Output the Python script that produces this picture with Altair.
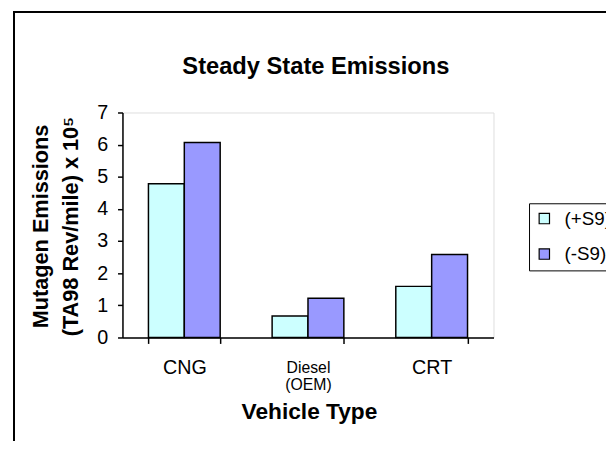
import altair as alt
import pandas as pd

vehicles = ["CNG", "Diesel (OEM)", "CRT"]
series = ["(+S9)", "(-S9)"]
plus_s9 = [4.78, 0.67, 1.59]
minus_s9 = [6.07, 1.22, 2.58]
colors = ["#CCFFFF", "#9999FF"]
y_ticks = [0, 1, 2, 3, 4, 5, 6, 7]

rows = []
for i, v in enumerate(vehicles):
    rows.append({"vehicle": v, "series": series[0], "value": plus_s9[i]})
    rows.append({"vehicle": v, "series": series[1], "value": minus_s9[i]})
df = pd.DataFrame(rows)

FONT = "Liberation Sans"

bars = alt.Chart(df).mark_bar(stroke="black", strokeWidth=1.5).encode(
    x=alt.X(
        "vehicle:N",
        sort=vehicles,
        scale=alt.Scale(paddingInner=0.42, paddingOuter=0.21),
        axis=alt.Axis(
            title="Vehicle Type",
            titleFont=FONT,
            titleFontSize=23,
            titleFontWeight="bold",
            titleColor="black",
            titleBaseline="alphabetic",
            titleX=189,
            titleY=82,
            labelAngle=0,
            labelFont=FONT,
            labelFontSize={"condition": {"test": "datum.value == 'Diesel (OEM)'", "value": 16}, "value": 20},
            labelColor="black",
            labelBaseline="middle",
            labelPadding=24,
            labelLineHeight=18,
            labelExpr="datum.value == 'Diesel (OEM)' ? ['Diesel', '(OEM)'] : datum.label",
            tickBand="extent",
            tickSize=6,
            tickColor="black",
            domainColor="black",
            domainWidth=1.5,
            tickWidth=1.5,
            grid=False,
        ),
    ),
    xOffset=alt.XOffset("series:N", sort=series, scale=alt.Scale(paddingInner=0, paddingOuter=0)),
    y=alt.Y(
        "value:Q",
        scale=alt.Scale(domain=[0, 7], nice=False),
        axis=alt.Axis(
            title=["Mutagen Emissions", "(TA98 Rev/mile) x 10⁵"],
            titleFont=FONT,
            titleFontSize=22,
            titleFontWeight="bold",
            titleColor="black",
            titleAngle=270,
            titleAlign="center",
            titleBaseline="alphabetic",
            titleLineHeight=30,
            titleX=-76,
            titleY=115,
            values=y_ticks,
            labelFont=FONT,
            labelFontSize=20,
            labelColor="black",
            labelPadding=10,
            tickSize=5,
            tickColor="black",
            tickWidth=1.5,
            domainColor="black",
            domainWidth=1.5,
            grid=False,
        ),
    ),
    color=alt.Color(
        "series:N",
        sort=series,
        scale=alt.Scale(domain=series, range=colors),
        legend=alt.Legend(
            title=None,
            orient="none",
            legendX=412,
            legendY=92,
            labelFont=FONT,
            labelFontSize=19,
            labelColor="black",
            symbolType="square",
            symbolSize=110,
            symbolStrokeColor="black",
            symbolStrokeWidth=1.2,
            strokeColor="black",
            fillColor="white",
            padding=6,
            rowPadding=16,
            labelOffset=11,
        ),
    ),
)

frame = alt.Chart(df).mark_rect(
    fillOpacity=0, stroke="black", strokeWidth=1.5, clip=False
).encode(
    x=alt.value(-110), x2=alt.value(700), y=alt.value(-102), y2=alt.value(600)
)

chart = alt.layer(frame, bars).properties(
    width=376,
    height=228,
    title=alt.TitleParams(
        "Steady State Emissions",
        font=FONT,
        fontSize=24,
        fontWeight="bold",
        color="black",
        anchor="middle",
        baseline="alphabetic",
        offset=0,
        dy=88,
        dx=8,
    ),
    autosize=alt.AutoSizeParams(type="none"),
    padding={"left": 116, "top": 103, "right": 114, "bottom": 102},
).configure_view(stroke="#8a8a8a", strokeWidth=2).configure(background="white")

chart.save("out.html", embed_options={"renderer": "svg", "actions": False})
